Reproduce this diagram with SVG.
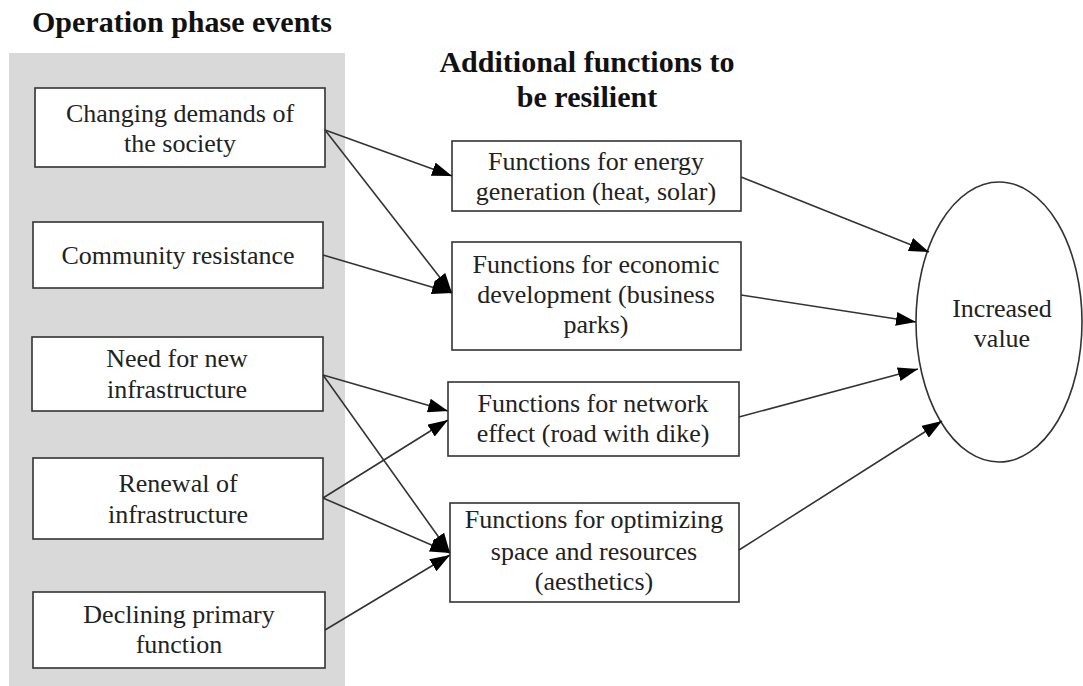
<svg xmlns="http://www.w3.org/2000/svg" width="1083" height="686" viewBox="0 0 1083 686">
<style>
  .box { fill: #ffffff; stroke: #333333; stroke-width: 1.6; }
  .t { font-family: 'Liberation Serif', Tinos, 'Times New Roman', 'DejaVu Serif', serif; font-size: 26px; fill: #222222; text-anchor: middle; }
  .h { font-family: 'Liberation Serif', Tinos, 'Times New Roman', 'DejaVu Serif', serif; font-size: 30px; font-weight: bold; fill: #111111; text-anchor: middle; }
  .c { stroke: #333333; stroke-width: 1.6; fill: none; marker-end: url(#ah); }
</style>
<defs>
  <marker id="ah" viewBox="0 0 20 14" refX="20" refY="7" markerWidth="20" markerHeight="14" markerUnits="userSpaceOnUse" orient="auto">
    <path d="M0,0 L20,7 L0,14 z" fill="#000000"/>
  </marker>
</defs>
<rect x="0" y="0" width="1083" height="686" fill="#ffffff"/>
<rect id="panel" x="9" y="53" width="336" height="633" fill="#d9d9d9"/>
<text class="h" x="182" y="32">Operation phase events</text>
<text class="h" x="587" y="72">Additional functions to</text>
<text class="h" x="587" y="107">be resilient</text>

<g id="n-changing">
  <rect class="box" x="35" y="88" width="290" height="79"/>
  <text class="t" x="180" y="122">Changing demands of</text>
  <text class="t" x="180" y="152">the society</text>
</g>
<g id="n-community">
  <rect class="box" x="33" y="222" width="290" height="66"/>
  <text class="t" x="178" y="264">Community resistance</text>
</g>
<g id="n-need">
  <rect class="box" x="32" y="337" width="291" height="74"/>
  <text class="t" x="177" y="367">Need for new</text>
  <text class="t" x="177" y="398">infrastructure</text>
</g>
<g id="n-renewal">
  <rect class="box" x="33" y="458" width="290" height="81"/>
  <text class="t" x="178" y="492">Renewal of</text>
  <text class="t" x="178" y="523">infrastructure</text>
</g>
<g id="n-declining">
  <rect class="box" x="33" y="592" width="292" height="76"/>
  <text class="t" x="179" y="623">Declining primary</text>
  <text class="t" x="179" y="653">function</text>
</g>

<g id="n-energy">
  <rect class="box" x="452" y="141" width="289" height="70"/>
  <text class="t" x="596" y="170">Functions for energy</text>
  <text class="t" x="596" y="200">generation (heat, solar)</text>
</g>
<g id="n-economic">
  <rect class="box" x="452" y="242" width="289" height="108"/>
  <text class="t" x="596" y="273">Functions for economic</text>
  <text class="t" x="596" y="303">development (business</text>
  <text class="t" x="596" y="333">parks)</text>
</g>
<g id="n-network">
  <rect class="box" x="448" y="382" width="291" height="74"/>
  <text class="t" x="593" y="412">Functions for network</text>
  <text class="t" x="593" y="442">effect (road with dike)</text>
</g>
<g id="n-optimizing">
  <rect class="box" x="450" y="503" width="289" height="99"/>
  <text class="t" x="594" y="528">Functions for optimizing</text>
  <text class="t" x="594" y="560">space and resources</text>
  <text class="t" x="594" y="590">(aesthetics)</text>
</g>

<g id="n-value">
  <ellipse cx="999" cy="322" rx="83" ry="140" fill="#ffffff" stroke="#333333" stroke-width="1.6"/>
  <text class="t" x="1002" y="317">Increased</text>
  <text class="t" x="1002" y="347">value</text>
</g>

<g id="connectors">
  <line class="c" x1="325" y1="130" x2="452" y2="176"/>
  <line class="c" x1="325" y1="130" x2="452" y2="293"/>
  <line class="c" x1="323" y1="255" x2="452" y2="293"/>
  <line class="c" x1="323" y1="375" x2="448" y2="411"/>
  <line class="c" x1="323" y1="375" x2="450" y2="553"/>
  <line class="c" x1="323" y1="498" x2="448" y2="420"/>
  <line class="c" x1="323" y1="498" x2="450" y2="553"/>
  <line class="c" x1="325" y1="630" x2="450" y2="555"/>
  <line class="c" x1="741" y1="177" x2="929" y2="252"/>
  <line class="c" x1="741" y1="295" x2="916" y2="322"/>
  <line class="c" x1="739" y1="417" x2="918" y2="369"/>
  <line class="c" x1="739" y1="550" x2="942" y2="421"/>
</g>
</svg>
